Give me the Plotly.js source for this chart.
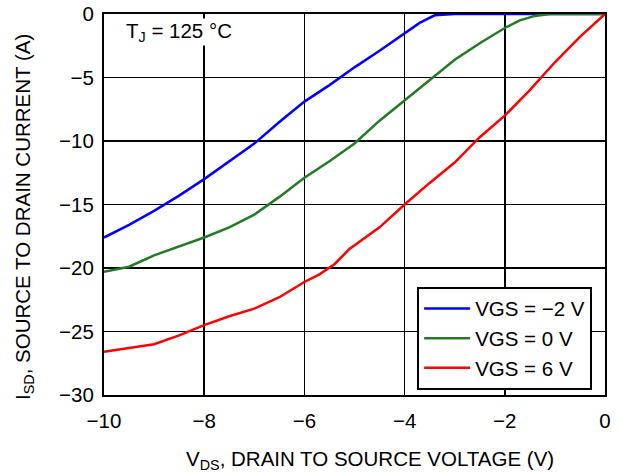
<!DOCTYPE html>
<html><head><meta charset="utf-8">
<script src="https://cdn.plot.ly/plotly-3.0.1.min.js"></script>
<style>body{margin:0}#c{width:620px;height:474px}</style>
</head><body><div id="c"></div>
<script>
const vdsBlue = [-10, -9.5, -9, -8.5, -8, -7.5, -7, -6.5, -6, -5.5, -5, -4.5, -4, -3.7, -3.4, -3, -2.5, -2, -1.5, -1, -0.5, 0];
const isdBlue = [-17.6, -16.6, -15.5, -14.3, -13.0, -11.6, -10.2, -8.5, -6.9, -5.6, -4.2, -2.9, -1.5, -0.7, -0.1, 0, 0, 0, 0, 0, 0, 0];

const vdsGreen = [-10, -9.5, -9, -8.5, -8, -7.5, -7, -6.5, -6, -5.5, -5, -4.5, -4, -3.5, -3, -2.5, -2, -1.7, -1.4, -1.1, -0.5, 0];
const isdGreen = [-20.3, -19.9, -19.0, -18.3, -17.6, -16.8, -15.8, -14.4, -12.9, -11.6, -10.2, -8.4, -6.8, -5.2, -3.6, -2.3, -1.1, -0.5, -0.15, 0, 0, 0];

const vdsRed = [-10, -9.5, -9, -8.5, -8, -7.5, -7, -6.5, -6, -5.7, -5.4, -5.1, -4.5, -4, -3.5, -3, -2.5, -2, -1.5, -1, -0.5, 0];
const isdRed = [-26.6, -26.3, -26.0, -25.3, -24.5, -23.8, -23.2, -22.3, -21.1, -20.5, -19.7, -18.5, -16.8, -15.0, -13.3, -11.7, -9.7, -8.0, -6.0, -3.8, -1.8, 0];

const seriesNames = ["VGS = \u22122 V", "VGS = 0 V", "VGS = 6 V"];
const xTicks = [-10, -8, -6, -4, -2, 0];
const yTicks = [-30, -25, -20, -15, -10, -5, 0];
const xTitle = "V<sub>DS</sub>, DRAIN TO SOURCE VOLTAGE (V)";
const yTitle = "I<sub>SD</sub>, SOURCE TO DRAIN CURRENT (A)";
const tempLabel = "T<sub>J</sub> = 125 \u00B0C";

const font = "Liberation Sans, Arial, sans-serif";
const fs = 20.5;
const traces = [
  {x: vdsBlue, y: isdBlue, name: seriesNames[0], mode: "lines", line: {color: "#0000ff", width: 2.5}},
  {x: vdsGreen, y: isdGreen, name: seriesNames[1], mode: "lines", line: {color: "#247a24", width: 2.5}},
  {x: vdsRed, y: isdRed, name: seriesNames[2], mode: "lines", line: {color: "#ff0000", width: 2.5}}
];
const axisCommon = {showline: true, linecolor: "#000", linewidth: 2, mirror: true,
  showgrid: true, gridcolor: "#000", gridwidth: 1.5, zeroline: false, ticks: "",
  tickfont: {family: font, size: fs, color: "#000"}};
const layout = {
  width: 620, height: 474,
  margin: {l: 104, r: 15, t: 14, b: 79},
  paper_bgcolor: "#fff", plot_bgcolor: "#fff",
  font: {family: font, color: "#000"},
  xaxis: Object.assign({}, axisCommon, {range: [-10, 0], tickvals: xTicks, ticklabelstandoff: 6}),
  yaxis: Object.assign({}, axisCommon, {range: [-30, 0], tickvals: yTicks, ticklabelstandoff: 4}),
  legend: {x: 0.625, y: 0.014, xanchor: "left", yanchor: "bottom", bgcolor: "#fff",
    bordercolor: "#000", borderwidth: 2, font: {family: font, size: fs, color: "#000"},
    tracegroupgap: 0, itemwidth: 46},
  showlegend: true,
  annotations: [
    {xref: "paper", yref: "paper", x: 0.042, y: 0.953, xanchor: "left", yanchor: "middle",
      text: tempLabel, showarrow: false, font: {family: font, size: fs, color: "#000"}, bgcolor: "#fff", borderpad: 0},
    {xref: "paper", yref: "paper", x: 0.531, y: (474 - 79 - 460) / 381, xanchor: "center", yanchor: "middle",
      text: xTitle, showarrow: false, font: {family: font, size: fs, color: "#000"}},
    {xref: "paper", yref: "paper", x: (24 - 104) / 501, y: (395 - 217) / 381, xanchor: "center", yanchor: "middle",
      textangle: -90, text: yTitle, showarrow: false, font: {family: font, size: fs, color: "#000"}}
  ]
};
Plotly.newPlot("c", traces, layout, {displayModeBar: false, staticPlot: true});
</script>
</body></html>
